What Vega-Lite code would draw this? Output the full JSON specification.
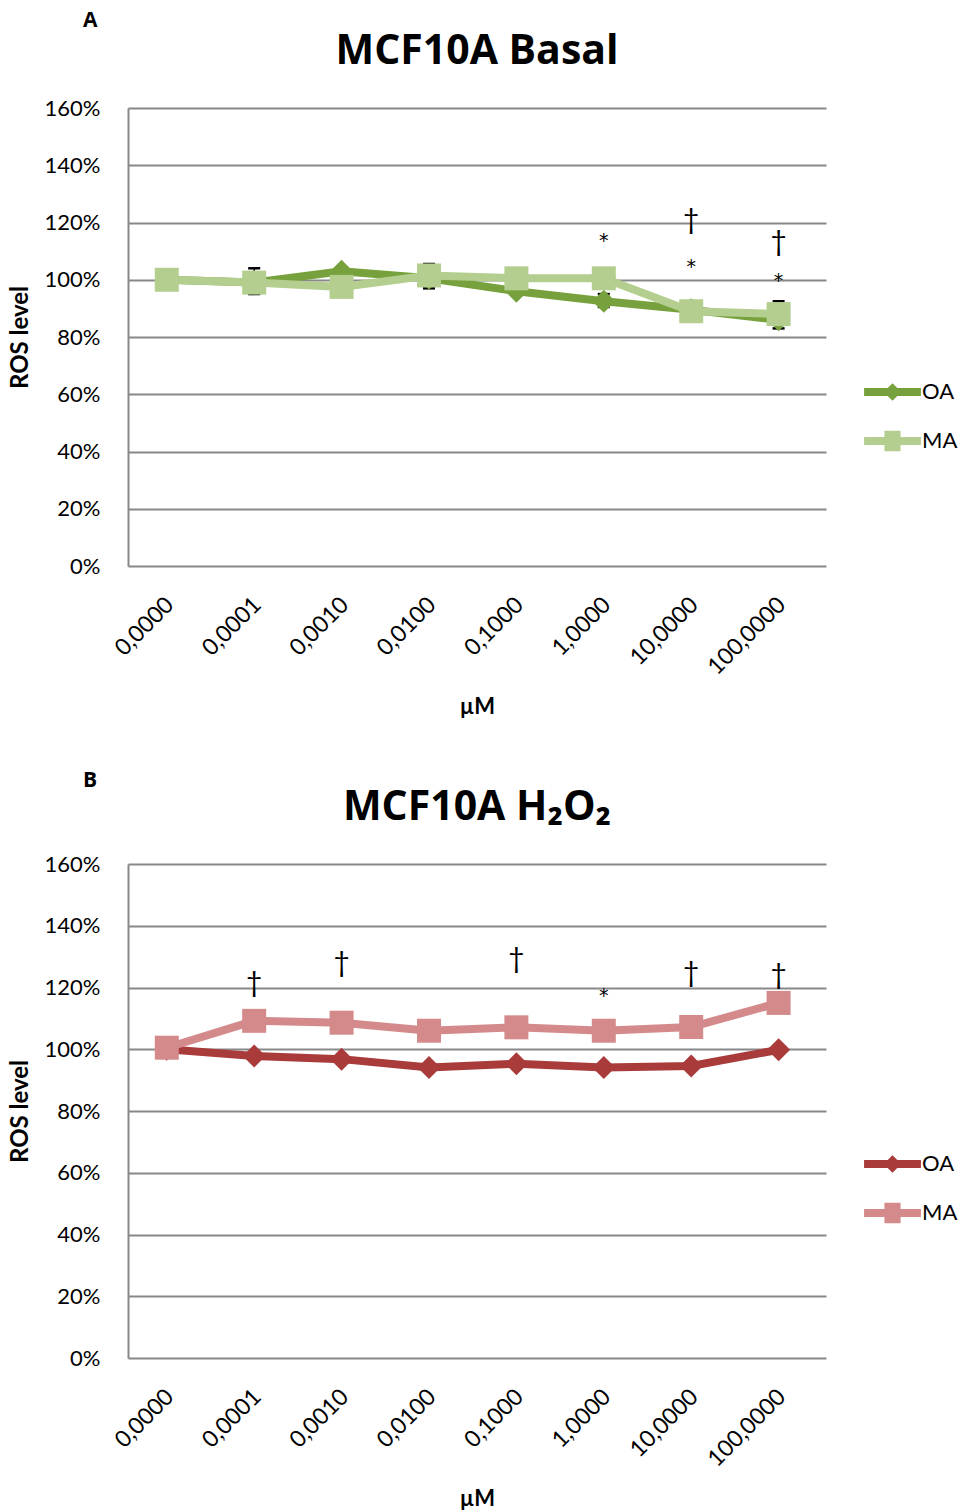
{
  "$schema": "https://vega.github.io/schema/vega-lite/v6.json",
  "background": "white",
  "padding": {"left": 8, "top": 10, "right": 5, "bottom": 5},
  "config": {
    "font": "Lato",
    "view": {"stroke": null},
    "axis": {"labelFont": "Lato", "titleFont": "Lato", "labelColor": "#000", "titleColor": "#000"},
    "title": {"font": "Open Sans", "color": "#000"},
    "legend": {"labelFont": "Lato", "labelFontSize": 22, "labelColor": "#000"}
  },
  "datasets": {
    "a": [
      {"s": "OA", "c": "0,0000", "v": 100},
      {"s": "OA", "c": "0,0001", "v": 99},
      {"s": "OA", "c": "0,0010", "v": 103},
      {"s": "OA", "c": "0,0100", "v": 100.5},
      {"s": "OA", "c": "0,1000", "v": 96},
      {"s": "OA", "c": "1,0000", "v": 92.5},
      {"s": "OA", "c": "10,0000", "v": 89.5},
      {"s": "OA", "c": "100,0000", "v": 86},
      {"s": "MA", "c": "0,0000", "v": 100},
      {"s": "MA", "c": "0,0001", "v": 99},
      {"s": "MA", "c": "0,0010", "v": 97.5},
      {"s": "MA", "c": "0,0100", "v": 101.5},
      {"s": "MA", "c": "0,1000", "v": 100.5},
      {"s": "MA", "c": "1,0000", "v": 100.5},
      {"s": "MA", "c": "10,0000", "v": 89},
      {"s": "MA", "c": "100,0000", "v": 88}
    ],
    "aerr": [
      {"c": "0,0001", "lo": 95, "hi": 104},
      {"c": "0,0100", "lo": 97, "hi": 105.5},
      {"c": "1,0000", "lo": 90.5, "hi": 95},
      {"c": "100,0000", "lo": 83, "hi": 92.5}
    ],
    "aann": [
      {"c": "1,0000", "v": 115, "t": "*"},
      {"c": "10,0000", "v": 120.5, "t": "†"},
      {"c": "10,0000", "v": 106, "t": "*"},
      {"c": "100,0000", "v": 113, "t": "†"},
      {"c": "100,0000", "v": 101, "t": "*"}
    ],
    "b": [
      {"s": "OA", "c": "0,0000", "v": 100},
      {"s": "OA", "c": "0,0001", "v": 97.8},
      {"s": "OA", "c": "0,0010", "v": 96.8},
      {"s": "OA", "c": "0,0100", "v": 94.1},
      {"s": "OA", "c": "0,1000", "v": 95.3},
      {"s": "OA", "c": "1,0000", "v": 94.1},
      {"s": "OA", "c": "10,0000", "v": 94.6},
      {"s": "OA", "c": "100,0000", "v": 99.8},
      {"s": "MA", "c": "0,0000", "v": 100.5},
      {"s": "MA", "c": "0,0001", "v": 109.2},
      {"s": "MA", "c": "0,0010", "v": 108.6},
      {"s": "MA", "c": "0,0100", "v": 106},
      {"s": "MA", "c": "0,1000", "v": 107.1},
      {"s": "MA", "c": "1,0000", "v": 106},
      {"s": "MA", "c": "10,0000", "v": 107.2},
      {"s": "MA", "c": "100,0000", "v": 115}
    ],
    "bann": [
      {"c": "0,0001", "v": 121, "t": "†"},
      {"c": "0,0010", "v": 127.5, "t": "†"},
      {"c": "0,1000", "v": 129, "t": "†"},
      {"c": "1,0000", "v": 118.5, "t": "*"},
      {"c": "10,0000", "v": 124.5, "t": "†"},
      {"c": "100,0000", "v": 123.7, "t": "†"}
    ]
  },
  "vconcat": [
    {
      "title": {"text": "A", "anchor": "start", "fontSize": 21, "fontWeight": "bold", "dx": 75, "offset": 0},
      "vconcat": [
        {
          "title": {"text": "MCF10A Basal", "fontSize": 41, "fontWeight": "bold", "offset": 24},
          "width": 698,
          "height": 458,
          "encoding": {
            "x": {
              "field": "c", "type": "ordinal",
              "scale": {"type": "point", "domain": ["0,0000","0,0001","0,0010","0,0100","0,1000","1,0000","10,0000","100,0000"], "padding": 0.493, "align": 0.45},
              "axis": {"title": "µM", "titleFontSize": 22, "titleFontWeight": "bold", "titlePadding": 18, "labelAngle": -45, "labelFontSize": 23, "domain": false, "ticks": false, "labelPadding": 27, "labelOffset": -5}
            },
            "y": {
              "type": "quantitative",
              "scale": {"domain": [0, 160], "nice": false},
              "axis": {"title": "ROS level", "titleFontSize": 24, "titleFontWeight": "bold", "titlePadding": 12, "values": [0,20,40,60,80,100,120,140,160], "labelExpr": "datum.value + '%'", "labelFontSize": 22, "ticks": false, "labelPadding": 28, "domainColor": "#888", "domainWidth": 2, "gridColor": "#888", "gridWidth": 2, "grid": true}
            }
          },
          "layer": [
            {"data": {"name": "a"}, "transform": [{"filter": "false"}], "mark": {"type": "point", "filled": true, "size": 2401, "opacity": 1},
             "encoding": {"y": {"field": "v"},
               "color": {"field": "s", "type": "nominal", "scale": {"domain": ["OA", "MA"], "range": ["#77A13C", "#B3CE8E"]}, "legend": {"title": null, "orient": "none", "legendX": 740, "legendY": 259.5, "padding": 0, "rowPadding": 13, "labelOffset": 5, "symbolSize": 2401, "symbolStrokeWidth": 0, "symbolOpacity": 1, "labelFontSize": 22}},
               "shape": {"field": "s", "type": "nominal", "scale": {"domain": ["OA", "MA"], "range": ["M-1.16,-0.16H1.16V0.16H-1.16Z M0,-0.36L0.36,0L0,0.36L-0.36,0Z", "M-1.16,-0.16H1.16V0.16H-1.16Z M-0.33,-0.42H0.33V0.42H-0.33Z"]}}}},
            {"data": {"name": "aerr"}, "mark": {"type": "rule", "color": "#000", "strokeWidth": 1.5}, "encoding": {"y": {"field": "lo"}, "y2": {"field": "hi"}}},
            {"data": {"name": "aerr"}, "mark": {"type": "tick", "color": "#000", "thickness": 2.5, "size": 12, "opacity": 1}, "encoding": {"y": {"field": "lo"}}},
            {"data": {"name": "aerr"}, "mark": {"type": "tick", "color": "#000", "thickness": 2.5, "size": 12, "opacity": 1}, "encoding": {"y": {"field": "hi"}}},
            {"data": {"name": "a"}, "mark": {"type": "line", "strokeWidth": 8}, "encoding": {"y": {"field": "v"}, "color": {"field": "s", "type": "nominal", "legend": null}, "detail": {"field": "s"}}},
            {"data": {"name": "a"}, "transform": [{"filter": "datum.s == 'OA'"}], "mark": {"type": "point", "shape": "diamond", "filled": true, "size": 529, "opacity": 1}, "encoding": {"y": {"field": "v"}, "color": {"field": "s", "type": "nominal", "legend": null}}},
            {"data": {"name": "a"}, "transform": [{"filter": "datum.s == 'MA'"}], "mark": {"type": "point", "shape": "square", "filled": true, "size": 576, "opacity": 1}, "encoding": {"y": {"field": "v"}, "color": {"field": "s", "type": "nominal", "legend": null}}},
            {"data": {"name": "aann"}, "transform": [{"filter": "datum.t == '*'"}], "mark": {"type": "text", "font": "DejaVu Sans", "fontSize": 19, "baseline": "middle", "dy": 4, "color": "#000"}, "encoding": {"y": {"field": "v"}, "text": {"field": "t"}}},
            {"data": {"name": "aann"}, "transform": [{"filter": "datum.t == '†'"}], "mark": {"type": "text", "fontSize": 28, "baseline": "middle", "color": "#000"}, "encoding": {"y": {"field": "v"}, "text": {"field": "t"}}}
          ]
        }
      ]
    },
    {
      "title": {"text": "B", "anchor": "start", "fontSize": 21, "fontWeight": "bold", "dx": 75, "offset": -4},
      "vconcat": [
        {
          "title": {"text": "MCF10A H₂O₂", "fontSize": 41, "fontWeight": "bold", "offset": 24},
          "width": 698,
          "height": 494,
          "encoding": {
            "x": {
              "field": "c", "type": "ordinal",
              "scale": {"type": "point", "domain": ["0,0000","0,0001","0,0010","0,0100","0,1000","1,0000","10,0000","100,0000"], "padding": 0.493, "align": 0.45},
              "axis": {"title": "µM", "titleFontSize": 22, "titleFontWeight": "bold", "titlePadding": 18, "labelAngle": -45, "labelFontSize": 23, "domain": false, "ticks": false, "labelPadding": 27, "labelOffset": -5}
            },
            "y": {
              "type": "quantitative",
              "scale": {"domain": [0, 160], "nice": false},
              "axis": {"title": "ROS level", "titleFontSize": 24, "titleFontWeight": "bold", "titlePadding": 12, "values": [0,20,40,60,80,100,120,140,160], "labelExpr": "datum.value + '%'", "labelFontSize": 22, "ticks": false, "labelPadding": 28, "domainColor": "#888", "domainWidth": 2, "gridColor": "#888", "gridWidth": 2, "grid": true}
            }
          },
          "layer": [
            {"data": {"name": "b"}, "transform": [{"filter": "false"}], "mark": {"type": "point", "filled": true, "size": 2401, "opacity": 1},
             "encoding": {"y": {"field": "v"},
               "color": {"field": "s", "type": "nominal", "scale": {"domain": ["OA", "MA"], "range": ["#A93B3B", "#D48A8B"]}, "legend": {"title": null, "orient": "none", "legendX": 740, "legendY": 275.5, "padding": 0, "rowPadding": 13, "labelOffset": 5, "symbolSize": 2401, "symbolStrokeWidth": 0, "symbolOpacity": 1, "labelFontSize": 22}},
               "shape": {"field": "s", "type": "nominal", "scale": {"domain": ["OA", "MA"], "range": ["M-1.16,-0.16H1.16V0.16H-1.16Z M0,-0.36L0.36,0L0,0.36L-0.36,0Z", "M-1.16,-0.16H1.16V0.16H-1.16Z M-0.33,-0.42H0.33V0.42H-0.33Z"]}}}},
            {"data": {"name": "b"}, "mark": {"type": "line", "strokeWidth": 8}, "encoding": {"y": {"field": "v"}, "color": {"field": "s", "type": "nominal", "legend": null}, "detail": {"field": "s"}}},
            {"data": {"name": "b"}, "transform": [{"filter": "datum.s == 'OA'"}], "mark": {"type": "point", "shape": "diamond", "filled": true, "size": 529, "opacity": 1}, "encoding": {"y": {"field": "v"}, "color": {"field": "s", "type": "nominal", "legend": null}}},
            {"data": {"name": "b"}, "transform": [{"filter": "datum.s == 'MA'"}], "mark": {"type": "point", "shape": "square", "filled": true, "size": 576, "opacity": 1}, "encoding": {"y": {"field": "v"}, "color": {"field": "s", "type": "nominal", "legend": null}}},
            {"data": {"name": "bann"}, "transform": [{"filter": "datum.t == '*'"}], "mark": {"type": "text", "font": "DejaVu Sans", "fontSize": 19, "baseline": "middle", "dy": 4, "color": "#000"}, "encoding": {"y": {"field": "v"}, "text": {"field": "t"}}},
            {"data": {"name": "bann"}, "transform": [{"filter": "datum.t == '†'"}], "mark": {"type": "text", "fontSize": 28, "baseline": "middle", "color": "#000"}, "encoding": {"y": {"field": "v"}, "text": {"field": "t"}}}
          ]
        }
      ]
    }
  ],
  "spacing": 52,
  "resolve": {"scale": {"color": "independent", "shape": "independent"}, "legend": {"color": "independent", "shape": "independent"}}
}
